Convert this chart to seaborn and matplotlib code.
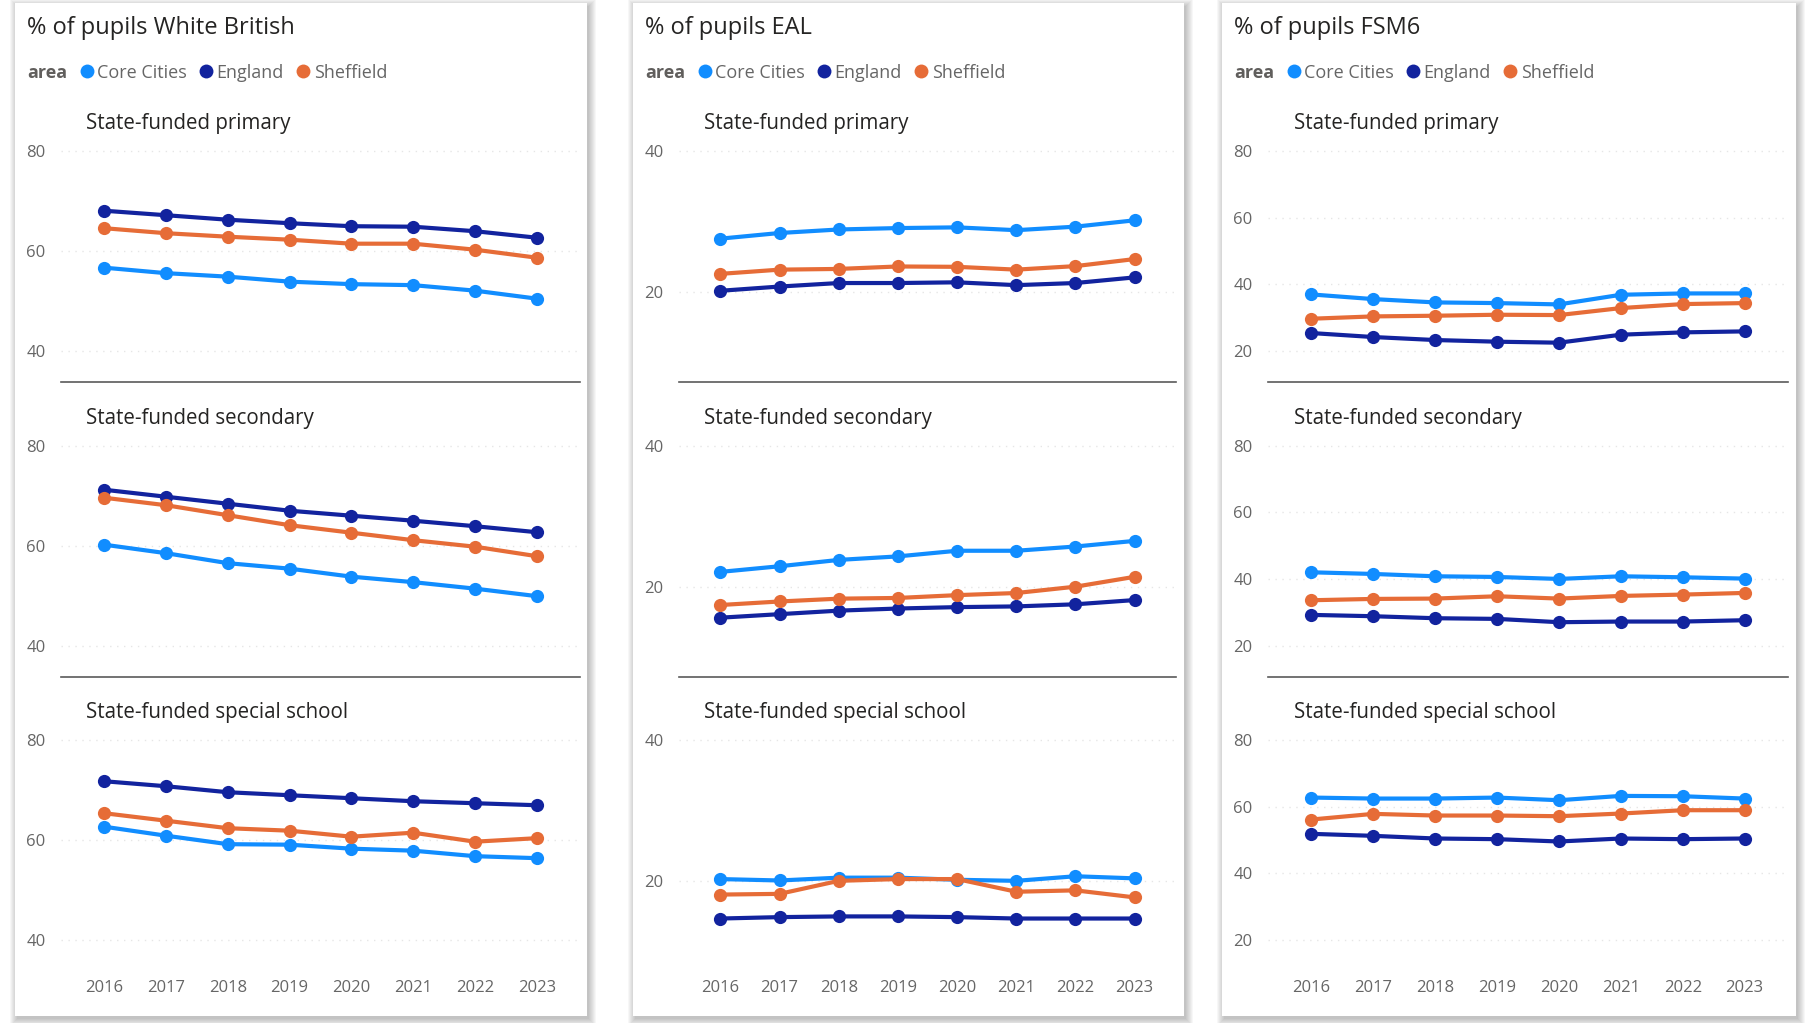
import matplotlib
matplotlib.use('Agg')
import matplotlib.pyplot as plt
import seaborn as sns
import pandas as pd
from matplotlib.lines import Line2D
from matplotlib.patches import Rectangle

years = [2016, 2017, 2018, 2019, 2020, 2021, 2022, 2023]
areas = ['Core Cities', 'England', 'Sheffield']
phases = ['State-funded primary', 'State-funded secondary', 'State-funded special school']
measures = ['% of pupils White British', '% of pupils EAL', '% of pupils FSM6']

# White British
wb_primary = {'Core Cities': [56.7, 55.6, 54.9, 53.9, 53.4, 53.2, 52.1, 50.5],
              'England': [68.1, 67.2, 66.3, 65.6, 65.0, 64.9, 64.0, 62.7],
              'Sheffield': [64.6, 63.6, 62.9, 62.3, 61.5, 61.5, 60.3, 58.7]}
wb_secondary = {'Core Cities': [60.2, 58.5, 56.5, 55.4, 53.8, 52.7, 51.4, 49.9],
                'England': [71.2, 69.8, 68.4, 67.0, 66.0, 65.0, 63.9, 62.7],
                'Sheffield': [69.6, 68.1, 66.1, 64.1, 62.6, 61.1, 59.8, 57.9]}
wb_special = {'Core Cities': [62.7, 60.9, 59.2, 59.1, 58.3, 57.9, 56.8, 56.4],
              'England': [71.8, 70.8, 69.6, 69.0, 68.4, 67.8, 67.4, 67.0],
              'Sheffield': [65.4, 63.9, 62.4, 61.9, 60.7, 61.5, 59.7, 60.4]}

# EAL
eal_primary = {'Core Cities': [27.6, 28.4, 28.9, 29.1, 29.2, 28.8, 29.3, 30.2],
               'England': [20.2, 20.8, 21.3, 21.3, 21.4, 21.0, 21.3, 22.1],
               'Sheffield': [22.6, 23.2, 23.3, 23.65, 23.6, 23.2, 23.7, 24.7]}
eal_secondary = {'Core Cities': [22.1, 22.9, 23.8, 24.3, 25.1, 25.1, 25.7, 26.5],
                 'England': [15.6, 16.1, 16.6, 16.9, 17.1, 17.2, 17.5, 18.1],
                 'Sheffield': [17.4, 17.9, 18.3, 18.4, 18.8, 19.1, 20.0, 21.4]}
eal_special = {'Core Cities': [20.3, 20.1, 20.5, 20.5, 20.2, 20.05, 20.7, 20.4],
               'England': [14.7, 14.9, 15.0, 15.0, 14.9, 14.7, 14.7, 14.7],
               'Sheffield': [18.1, 18.2, 20.05, 20.3, 20.3, 18.5, 18.7, 17.7]}

# FSM6
fsm_primary = {'Core Cities': [37.0, 35.6, 34.6, 34.4, 34.0, 36.9, 37.3, 37.3],
               'England': [25.4, 24.2, 23.3, 22.8, 22.5, 24.9, 25.6, 25.9],
               'Sheffield': [29.7, 30.4, 30.6, 30.9, 30.8, 32.9, 34.1, 34.4]}
fsm_secondary = {'Core Cities': [42.0, 41.5, 40.8, 40.6, 40.0, 40.8, 40.5, 40.1],
                 'England': [29.2, 28.8, 28.2, 28.0, 27.0, 27.2, 27.2, 27.6],
                 'Sheffield': [33.6, 34.0, 34.1, 34.8, 34.1, 34.9, 35.3, 35.8]}
fsm_special = {'Core Cities': [62.8, 62.5, 62.5, 62.8, 62.0, 63.3, 63.2, 62.5],
               'England': [51.9, 51.3, 50.5, 50.3, 49.6, 50.5, 50.3, 50.5],
               'Sheffield': [56.2, 57.9, 57.4, 57.4, 57.2, 58.0, 59.0, 59.0]}

panels = {measures[0]: [wb_primary, wb_secondary, wb_special],
          measures[1]: [eal_primary, eal_secondary, eal_special],
          measures[2]: [fsm_primary, fsm_secondary, fsm_special]}

yticks = {measures[0]: [40, 60, 80], measures[1]: [20, 40], measures[2]: [20, 40, 60, 80]}
ylims = {measures[0]: (33.75, 82.26), measures[1]: (7.21, 41.6), measures[2]: (10.6, 83.4)}

palette = {'Core Cities': '#118DFF', 'England': '#12239E', 'Sheffield': '#E66C37'}

rows = []
for m in measures:
    for phase, panel in zip(phases, panels[m]):
        for area in areas:
            for yr, v in zip(years, panel[area]):
                rows.append((m, phase, area, yr, v))
df = pd.DataFrame(rows, columns=['measure', 'phase', 'area', 'year', 'value'])

sns.set_style('white')
plt.rcParams['font.family'] = ['Open Sans', 'DejaVu Sans']

W, H = 1811, 1023
fig = plt.figure(figsize=(W / 100, H / 100), dpi=100, facecolor='white')

cards = [(15, 587), (633, 1184), (1222, 1796)]
axes_x = [(61, 580), (679, 1176), (1268, 1788)]
card_top, card_bot = 3, 1016
row_pitch = 294.5


def fig_rect(x0, y0, x1, y1):
    return [x0 / W, 1 - y1 / H, (x1 - x0) / W, (y1 - y0) / H]


for ci, m in enumerate(measures):
    cx0, cx1 = cards[ci]
    # shadow + card
    for i in range(8):
        fig.add_artist(Rectangle(((cx0 - i + 2) / W, 1 - (card_bot + i + 3) / H),
                                 (cx1 - cx0 + 2 * i) / W, (card_bot - card_top + 2 * i) / H,
                                 transform=fig.transFigure, facecolor='black', alpha=0.03,
                                 edgecolor='none', zorder=-3))
    fig.add_artist(Rectangle((cx0 / W, 1 - card_bot / H), (cx1 - cx0) / W, (card_bot - card_top) / H,
                             transform=fig.transFigure, facecolor='white', edgecolor='none', zorder=-2))

    fig.text((cx0 + 12) / W, 1 - 28 / H, m, fontsize=17, color='#252423', va='center', ha='left')

    ax0, ax1 = axes_x[ci]
    for r, phase in enumerate(phases):
        top = 140 + row_pitch * r
        bot = 382.3 + row_pitch * r
        ax = fig.add_axes(fig_rect(ax0, top, ax1, bot))
        ax.patch.set_alpha(0)
        sub = df[(df['measure'] == m) & (df['phase'] == phase)]
        sns.lineplot(data=sub, x='year', y='value', hue='area', hue_order=areas, palette=palette,
                     marker='o', markersize=9.5, markeredgewidth=0, linewidth=3, legend=False, ax=ax)
        ax.set_xlim(2015.3, 2023.7)
        ax.set_ylim(*ylims[m])
        ax.set_yticks(yticks[m])
        ax.set_xticks(years)
        ax.set_xlabel('')
        ax.set_ylabel('')
        ax.grid(axis='y', color='#E6E6E6', linestyle=(0, (1, 4)), linewidth=1)
        ax.grid(axis='x', visible=False)
        ax.tick_params(axis='both', length=0, labelsize=12, labelcolor='#666666')
        ax.tick_params(axis='y', pad=11)
        ax.tick_params(axis='x', pad=6)
        for s in ['top', 'left', 'right']:
            ax.spines[s].set_visible(False)
        if r < 2:
            ax.spines['bottom'].set_color('#5a5a5a')
            ax.spines['bottom'].set_linewidth(1.2)
            ax.set_xticklabels([])
        else:
            ax.spines['bottom'].set_visible(False)
        fig.text((ax0 + 25.5) / W, 1 - (123.5 + row_pitch * r) / H, phase, fontsize=14.8,
                 color='#252423', va='center', ha='left')

    handles = [Line2D([], [], linestyle='none')] + [
        Line2D([], [], linestyle='none', marker='o', markersize=10, markeredgewidth=0, color=palette[a])
        for a in areas]
    leg = fig.legend(handles, ['area'] + areas, ncol=4, loc='center left',
                     bbox_to_anchor=((cx0 + 12 - 17) / W, 1 - 72.5 / H), frameon=False,
                     fontsize=13, handlelength=0.75, handletextpad=0.2, columnspacing=0.7,
                     borderpad=0, borderaxespad=0)
    for t in leg.get_texts():
        t.set_color('#666666')
    leg.get_texts()[0].set_fontweight('bold')
    leg.get_texts()[0].set_color('#605E5C')

fig.savefig('out.png', dpi=100, facecolor='white')
